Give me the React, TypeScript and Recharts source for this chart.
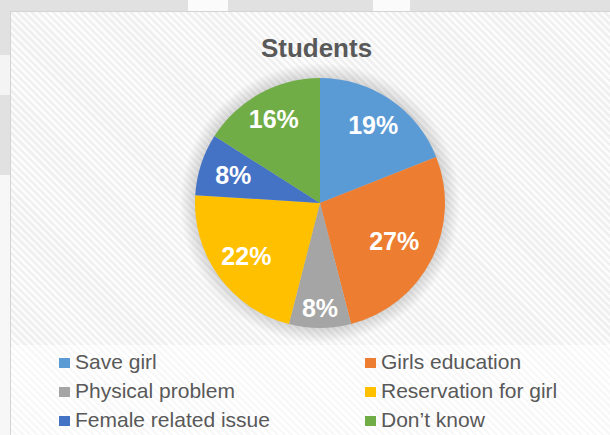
import React from "react";
import { PieChart, Pie, Cell } from "recharts";

const categories = [
  "Save girl",
  "Girls education",
  "Physical problem",
  "Reservation for girl",
  "Female related issue",
  "Don\u2019t know",
];
const values = [19, 27, 8, 22, 8, 16];
const colors = ["#5B9BD5", "#ED7D31", "#A5A5A5", "#FFC000", "#4472C4", "#70AD47"];
// how far out each percentage label sits, as a share of the radius
const labelRadius = [0.757, 0.666, 0.84, 0.728, 0.73, 0.767];

const data = categories.map((name, i) => ({ name, value: values[i] }));

const RAD = Math.PI / 180;
const FONT = "'Liberation Sans', Arial, sans-serif";

const renderLabel = (props: any) => {
  const { cx, cy, midAngle, outerRadius, index, value } = props;
  const r = outerRadius * labelRadius[index];
  const x = cx + r * Math.cos(-midAngle * RAD);
  const y = cy + r * Math.sin(-midAngle * RAD);
  return (
    <text
      x={x}
      y={y}
      fill="#ffffff"
      textAnchor="middle"
      dominantBaseline="central"
      fontFamily={FONT}
      fontWeight="bold"
      fontSize={25}
    >
      {value}%
    </text>
  );
};

export default function App() {
  const legendRows = [0, 1, 2];
  return (
    <div
      style={{
        position: "fixed",
        left: 0,
        top: 0,
        width: 610,
        height: 435,
        overflow: "hidden",
        background: "#e1e1e1",
        fontFamily: FONT,
      }}
    >
      {/* watermark bits around the frame */}
      <div style={{ position: "absolute", left: 188, top: 0, width: 40, height: 12, background: "#fbfbfb" }} />
      <div style={{ position: "absolute", left: 373, top: 0, width: 37, height: 12, background: "#fbfbfb" }} />
      <div style={{ position: "absolute", left: 0, top: 55, width: 10, height: 40, background: "#f4f4f4" }} />
      <div style={{ position: "absolute", left: 0, top: 175, width: 10, height: 260, background: "#f7f7f7" }} />

      {/* chart frame */}
      <div
        style={{
          position: "absolute",
          left: 10,
          top: 11,
          width: 600,
          height: 424,
          borderLeft: "1px solid #d4d4d4",
          borderTop: "1px solid #d4d4d4",
          boxSizing: "border-box",
          background:
            "repeating-linear-gradient(45deg, #fcfcfc 0px, #fcfcfc 2.5px, #f0f0f0 2.5px, #f0f0f0 5px)",
        }}
      />
      <div
        style={{
          position: "absolute",
          left: 11,
          top: 345,
          width: 599,
          height: 90,
          background:
            "repeating-linear-gradient(45deg, #ffffff 0px, #ffffff 2.5px, #f8f8f8 2.5px, #f8f8f8 5px)",
        }}
      />

      {/* soft glow behind the pie */}
      <div
        style={{
          position: "absolute",
          left: 320 - 140,
          top: 203 - 140,
          width: 280,
          height: 280,
          borderRadius: "50%",
          background:
            "radial-gradient(circle, rgba(0,0,0,0.22) 0px, rgba(0,0,0,0.15) 124px, rgba(0,0,0,0) 140px)",
        }}
      />

      <div style={{ position: "absolute", left: 0, top: 0 }}>
        <PieChart width={610} height={435} margin={{ top: 0, right: 0, bottom: 0, left: 0 }}>
          <text
            x={316.5}
            y={57}
            textAnchor="middle"
            fontFamily={FONT}
            fontWeight="bold"
            fontSize={26}
            fill="#595959"
          >
            Students
          </text>
          <Pie
            data={data}
            dataKey="value"
            nameKey="name"
            cx={320}
            cy={203}
            outerRadius={125}
            startAngle={90}
            endAngle={-270}
            stroke="none"
            label={renderLabel}
            labelLine={false}
            isAnimationActive={false}
          >
            {data.map((d, i) => (
              <Cell key={d.name} fill={colors[i]} />
            ))}
          </Pie>
        </PieChart>
      </div>

      {/* legend, two columns */}
      {legendRows.map((row) =>
        [0, 1].map((col) => {
          const i = row * 2 + col;
          const left = col === 0 ? 59 : 365;
          const top = 346.5 + row * 29;
          return (
            <div
              key={categories[i]}
              style={{
                position: "absolute",
                left,
                top,
                height: 29,
                lineHeight: "29px",
                fontSize: 21,
                color: "#595959",
                whiteSpace: "nowrap",
              }}
            >
              <span
                style={{
                  position: "absolute",
                  left: 0,
                  top: 11.8,
                  width: 11,
                  height: 10,
                  background: colors[i],
                }}
              />
              <span style={{ position: "absolute", left: 16, top: 0 }}>{categories[i]}</span>
            </div>
          );
        })
      )}
    </div>
  );
}
